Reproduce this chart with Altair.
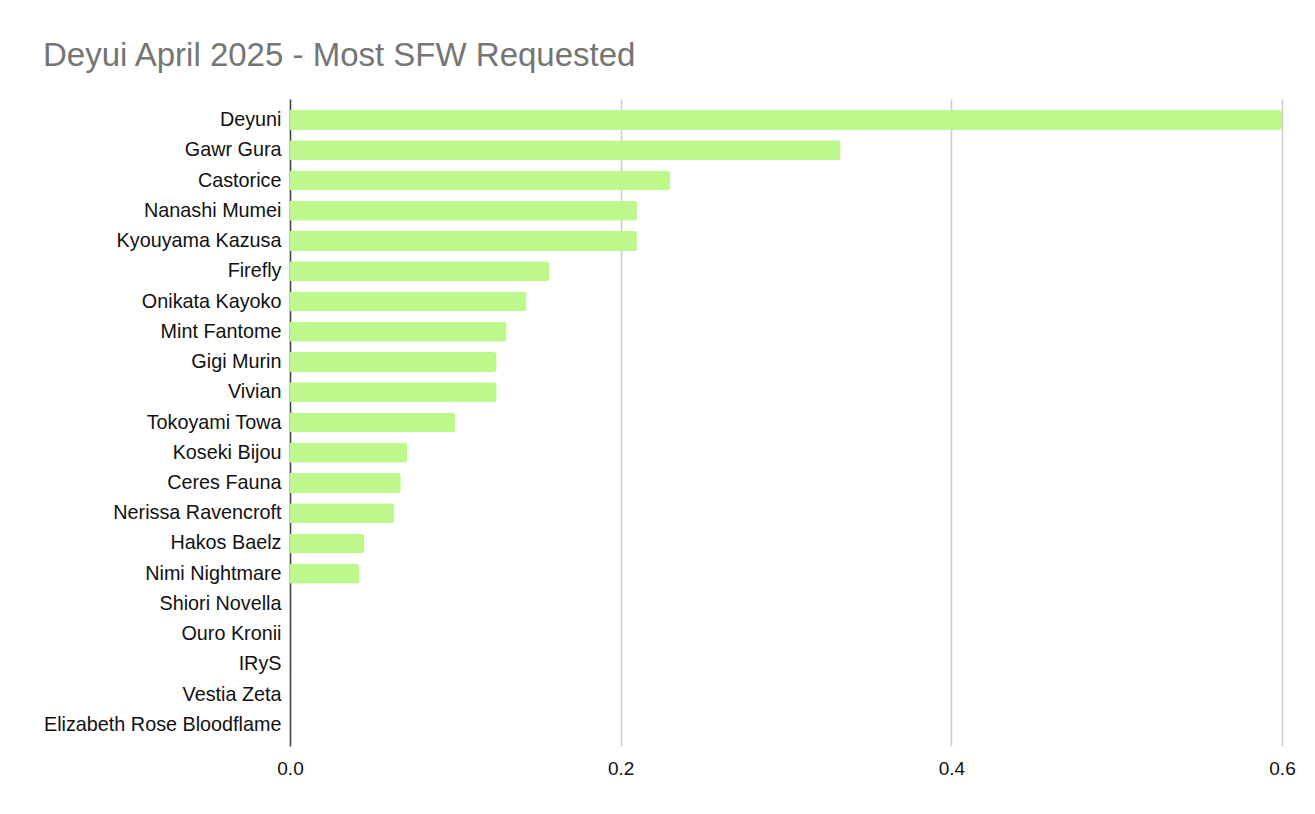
import altair as alt
import pandas as pd

names = [
    "Deyuni", "Gawr Gura", "Castorice", "Nanashi Mumei", "Kyouyama Kazusa",
    "Firefly", "Onikata Kayoko", "Mint Fantome", "Gigi Murin", "Vivian",
    "Tokoyami Towa", "Koseki Bijou", "Ceres Fauna", "Nerissa Ravencroft",
    "Hakos Baelz", "Nimi Nightmare", "Shiori Novella", "Ouro Kronii",
    "IRyS", "Vestia Zeta", "Elizabeth Rose Bloodflame",
]
values = [
    0.6, 0.333, 0.23, 0.21, 0.21,
    0.157, 0.143, 0.131, 0.125, 0.125,
    0.1, 0.071, 0.067, 0.063,
    0.045, 0.042, 0, 0,
    0, 0, 0,
]
x_ticks = [0.0, 0.2, 0.4, 0.6]

df = pd.DataFrame({"name": names, "value": values})

FONT = "Liberation Sans"

chart = (
    alt.Chart(df)
    .mark_bar(color="#bdf88c", cornerRadiusEnd=3)
    .encode(
        x=alt.X(
            "value:Q",
            scale=alt.Scale(domain=[0, 0.6], nice=False, zero=True),
            axis=alt.Axis(
                values=x_ticks,
                format=".1f",
                title=None,
                grid=True,
                gridColor="#cccccc",
                gridWidth=1.5,
                domain=False,
                ticks=False,
                labelFlush=False,
                labelPadding=13,
                labelFontSize=19,
                labelColor="#111111",
                labelFont=FONT,
            ),
        ),
        y=alt.Y(
            "name:N",
            sort=names,
            scale=alt.Scale(paddingInner=0.34, paddingOuter=0.365),
            axis=alt.Axis(
                title=None,
                ticks=False,
                domain=True,
                domainColor="#444444",
                domainWidth=1.5,
                grid=False,
                labelPadding=9,
                labelFontSize=19.8,
                labelColor="#111111",
                labelFont=FONT,
                labelLimit=400,
            ),
        ),
    )
    .properties(
        width=992,
        height=647,
        background="white",
        title=alt.TitleParams(
            "Deyui April 2025 - Most SFW Requested",
            anchor="start",
            frame="group",
            dx=-247,
            offset=26,
            fontSize=33,
            fontWeight="normal",
            color="#757575",
            font=FONT,
        ),
        autosize=alt.AutoSizeParams(type="none"),
        padding={"left": 282, "top": 91, "right": 20, "bottom": 50},
    )
    .configure_view(strokeWidth=0, stroke="transparent")
)

chart.save("out.html", embed_options={"renderer": "svg", "actions": False})
